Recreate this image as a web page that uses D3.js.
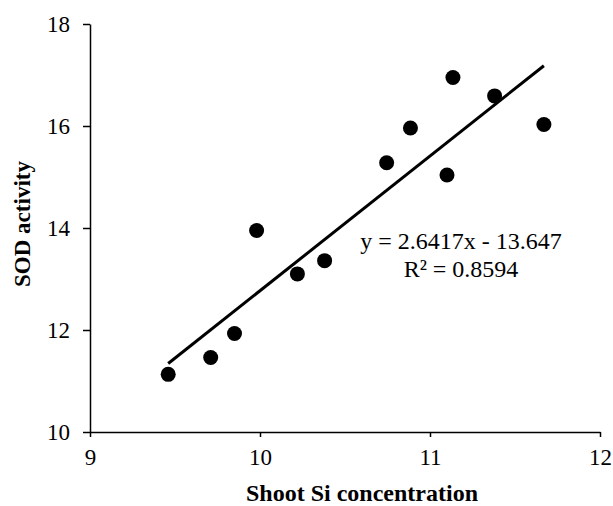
<!DOCTYPE html>
<html lang="en">
<head>
  <meta charset="UTF-8">
  <title>SOD activity vs Shoot Si</title>
  <script src="https://cdnjs.cloudflare.com/ajax/libs/d3/7.8.5/d3.min.js"></script>
  <style>
    body {
      margin: 0;
      background: white;
    }
    svg {
      display: block;
      font-family: "Liberation Serif", "Times New Roman", serif;
    }
    .axis path, .axis line {
      stroke: black;
      stroke-width: 1.5;
    }
    .axis text {
      font-size: 23px;
      font-family: "Liberation Serif", "Times New Roman", serif;
      fill: black;
    }
    .title {
      font-weight: bold;
    }
  </style>
</head>
<body>
  <script>
    // data
    var siValues = [9.46, 9.71, 9.85, 9.98, 10.22, 10.38, 10.745, 10.885, 11.10, 11.135, 11.38, 11.67];
    var sodValues = [11.13, 11.46, 11.93, 13.95, 13.10, 13.36, 15.28, 15.96, 15.04, 16.95, 16.59, 16.03];
    var xTicks = [9, 10, 11, 12];
    var yTicks = [10, 12, 14, 16, 18];
    var slope = 2.6417;
    var intercept = -13.647;
    var rSquared = 0.8594;

    var w = 613;
    var h = 506;
    var margin = {top: 24, right: 13, bottom: 74, left: 90};

    var points = siValues.map(function(d, i) {
      return {x: d, y: sodValues[i]};
    });

    var svg = d3.select("body").append("svg")
      .attr("width", w)
      .attr("height", h);

    var xScale = d3.scaleLinear()
      .domain([9, 12])
      .range([margin.left, w - margin.right]);

    var yScale = d3.scaleLinear()
      .domain([10, 18])
      .range([h - margin.bottom, margin.top]);

    svg.append("g")
      .attr("class", "axis")
      .attr("transform", "translate(0," + (h - margin.bottom) + ")")
      .call(d3.axisBottom(xScale).tickValues(xTicks).tickFormat(d3.format("d"))
        .tickSizeInner(5).tickSizeOuter(0).tickPadding(12));

    svg.append("g")
      .attr("class", "axis")
      .attr("transform", "translate(" + margin.left + ",0)")
      .call(d3.axisLeft(yScale).tickValues(yTicks).tickFormat(d3.format("d"))
        .tickSizeInner(7).tickSizeOuter(0).tickPadding(13));

    // trend line over the data range
    var xExtent = d3.extent(siValues);
    var trend = xExtent.map(function(x) {
      return {x: x, y: slope * x + intercept};
    });

    svg.append("path")
      .datum(trend)
      .attr("fill", "none")
      .attr("stroke", "black")
      .attr("stroke-width", 3)
      .attr("d", d3.line()
        .x(function(d) { return xScale(d.x); })
        .y(function(d) { return yScale(d.y); }));

    svg.selectAll(".dot")
      .data(points)
      .enter()
      .append("circle")
      .attr("class", "dot")
      .attr("cx", function(d) { return xScale(d.x); })
      .attr("cy", function(d) { return yScale(d.y); })
      .attr("r", 7.5)
      .attr("fill", "black");

    // equation label
    var eq = svg.append("text")
      .attr("text-anchor", "middle")
      .attr("font-size", 24)
      .attr("x", 461)
      .attr("y", 249);
    eq.append("tspan")
      .attr("x", 461)
      .text("y = " + slope + "x - " + Math.abs(intercept));
    eq.append("tspan")
      .attr("x", 461)
      .attr("dy", 27.5)
      .text("R\u00b2 = " + rSquared);

    svg.append("text")
      .attr("class", "title")
      .attr("font-size", 24)
      .attr("text-anchor", "middle")
      .attr("x", 362)
      .attr("y", 501)
      .text("Shoot Si concentration");

    svg.append("text")
      .attr("class", "title")
      .attr("font-size", 23)
      .attr("text-anchor", "middle")
      .attr("transform", "translate(30," + 224 + ") rotate(-90)")
      .text("SOD activity");
  </script>
</body>
</html>
